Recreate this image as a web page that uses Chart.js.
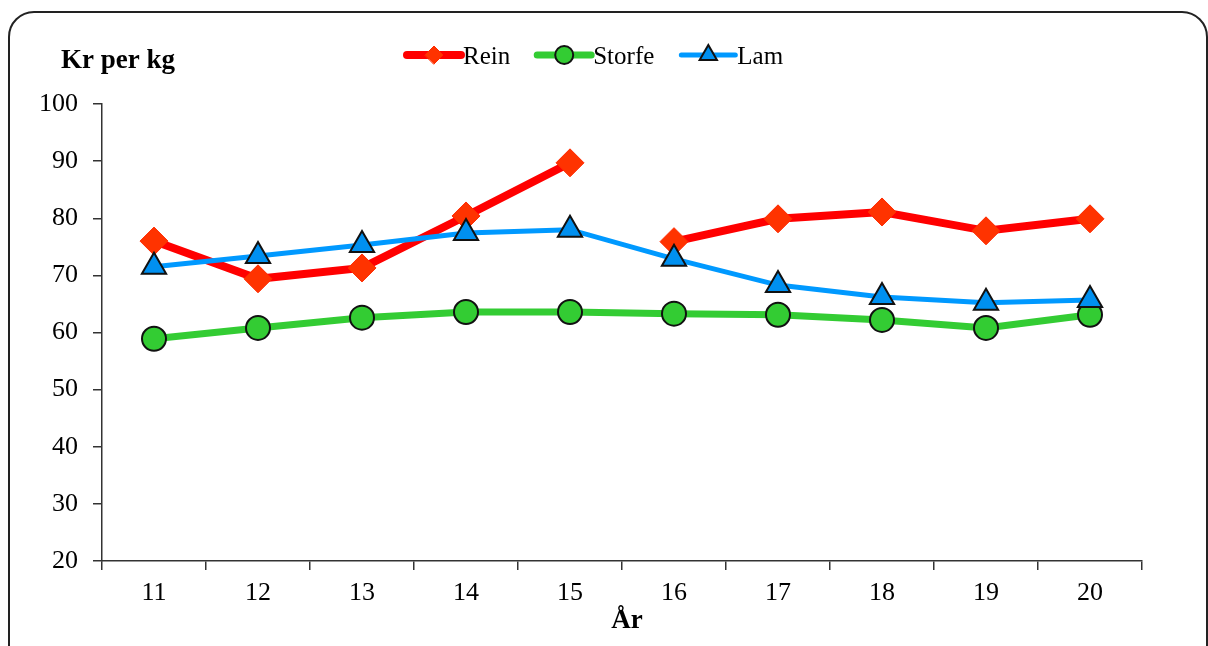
<!DOCTYPE html>
<html>
<head>
<meta charset="utf-8">
<script src="https://cdn.jsdelivr.net/npm/chart.js@4.4.1/dist/chart.umd.min.js"></script>
<style>
    body { margin: 0; background: #fff; }
    #wrap { position: relative; width: 1208px; height: 646px; overflow: hidden; }
    #frame {
        position: absolute; left: 8px; top: 11px; width: 1196px; height: 660px;
        border: 2px solid #222; border-radius: 26px; pointer-events: none;
    }
</style>
</head>
<body>
<div id="wrap">
    <canvas id="priceChart"></canvas>
    <div id="frame"></div>
</div>
<script>
// Data
const years = ['11', '12', '13', '14', '15', '16', '17', '18', '19', '20'];
const rein = [76.0, 69.4, 71.3, 80.4, 89.7, 75.9, 79.9, 81.1, 77.8, 79.9];
const storfe = [58.9, 60.8, 62.6, 63.6, 63.6, 63.3, 63.1, 62.2, 60.8, 63.1];
const lam = [71.5, 73.4, 75.3, 77.4, 78.0, 72.9, 68.3, 66.2, 65.2, 65.7];
const reinBreakAfter = 4; // the Rein line is not drawn between 15 and 16

const FONT = '"Liberation Serif", "Times New Roman", serif';

/**
 * Draw axis titles and a legend with line + marker samples
 */
const extrasPlugin = {
    id: 'extras',
    afterDraw(chart) {
        const ctx = chart.ctx;
        ctx.save();
        ctx.fillStyle = '#000';
        ctx.textBaseline = 'alphabetic';

        // Axis titles
        ctx.font = 'bold 27px ' + FONT;
        ctx.textAlign = 'left';
        ctx.fillText('Kr per kg', 61, 68);
        ctx.textAlign = 'center';
        ctx.fillText('År', 627, 628);

        // Legend
        ctx.font = '25px ' + FONT;
        ctx.textAlign = 'left';
        let x = 407;
        const y = 55;
        chart.data.datasets.forEach(ds => {
            ctx.strokeStyle = ds.borderColor;
            ctx.lineWidth = ds.borderWidth;
            ctx.lineCap = 'round';
            ctx.beginPath();
            ctx.moveTo(x, y);
            ctx.lineTo(x + 54, y);
            ctx.stroke();

            ctx.fillStyle = ds.pointBackgroundColor;
            ctx.strokeStyle = ds.pointBorderColor;
            ctx.lineWidth = ds.pointBorderWidth;
            Chart.helpers.drawPoint(ctx, {
                pointStyle: ds.pointStyle,
                radius: ds.legendRadius,
                rotation: 0,
                borderWidth: ds.pointBorderWidth
            }, x + 27, y);

            ctx.fillStyle = '#000';
            ctx.fillText(ds.label, x + 56, 64);
            x += 56 + ctx.measureText(ds.label).width + 27;
        });
        ctx.restore();
    }
};

const ctx = document.getElementById('priceChart');

new Chart(ctx, {
    type: 'line',
    data: {
        labels: years,
        datasets: [
            {
                label: 'Rein',
                data: rein,
                borderColor: '#ff0000',
                borderWidth: 8,
                pointStyle: 'rectRot',
                pointRadius: 14,
                legendRadius: 9,
                pointBackgroundColor: '#ff3300',
                pointBorderColor: '#ff2a00',
                pointBorderWidth: 1,
                tension: 0,
                order: 1,
                segment: {
                    borderColor: c => c.p0DataIndex === reinBreakAfter ? 'rgba(0,0,0,0)' : undefined
                }
            },
            {
                label: 'Storfe',
                data: storfe,
                borderColor: '#33cc33',
                borderWidth: 7,
                pointStyle: 'circle',
                pointRadius: 12,
                legendRadius: 9,
                pointBackgroundColor: '#33cc33',
                pointBorderColor: '#111',
                pointBorderWidth: 2,
                tension: 0,
                order: 2
            },
            {
                label: 'Lam',
                data: lam,
                borderColor: '#0099ff',
                borderWidth: 5,
                pointStyle: 'triangle',
                pointRadius: 14,
                legendRadius: 10,
                pointBackgroundColor: '#0090f0',
                pointBorderColor: '#111',
                pointBorderWidth: 2,
                tension: 0,
                order: 0
            }
        ]
    },
    options: {
        responsive: true,
        maintainAspectRatio: false,
        animation: false,
        layout: {
            padding: { top: 104, right: 66, bottom: 0, left: 0 }
        },
        scales: {
            x: {
                offset: true,
                grid: {
                    offset: true,
                    drawOnChartArea: false,
                    drawTicks: true,
                    tickLength: 9,
                    color: '#333',
                    lineWidth: 1.5
                },
                border: { display: true, color: '#333', width: 1.5 },
                ticks: {
                    color: '#000',
                    font: { family: FONT, size: 26 },
                    padding: 8,
                    maxRotation: 0
                },
                afterFit: s => { s.height = 85; }
            },
            y: {
                min: 20,
                max: 100,
                grid: {
                    drawOnChartArea: false,
                    drawTicks: true,
                    tickLength: 9,
                    color: '#333',
                    lineWidth: 1.5
                },
                border: { display: true, color: '#333', width: 1.5 },
                ticks: {
                    stepSize: 10,
                    color: '#000',
                    font: { family: FONT, size: 26 },
                    padding: 15
                },
                afterFit: s => { s.width = 102; }
            }
        },
        plugins: {
            legend: { display: false }, // custom legend drawn by plugin
            tooltip: { enabled: false }
        }
    },
    plugins: [extrasPlugin]
});
</script>
</body>
</html>
